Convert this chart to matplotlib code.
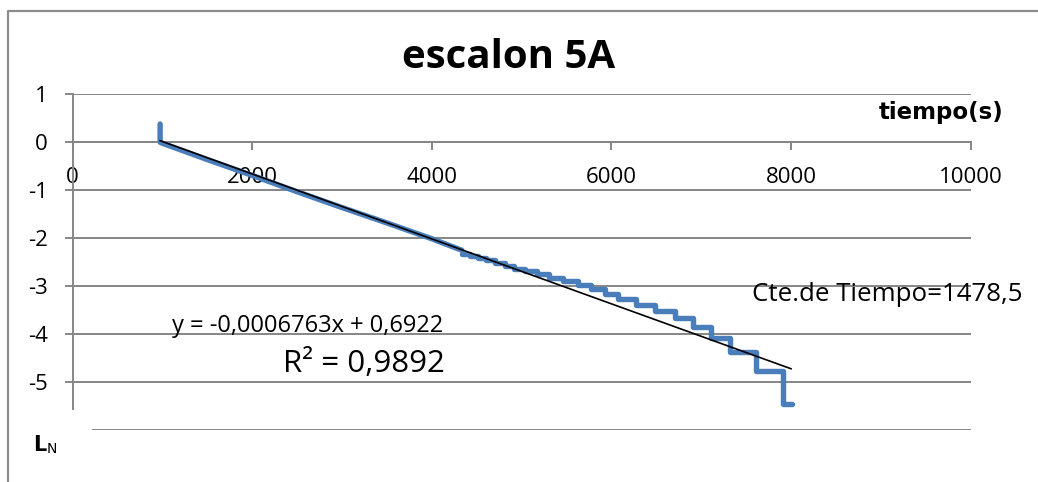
import matplotlib
matplotlib.use("Agg")
import matplotlib.pyplot as plt
from matplotlib.patches import Rectangle
from matplotlib.lines import Line2D

plt.rcParams['font.family'] = ['Open Sans', 'DejaVu Sans']

# smooth start of the curve (time in s, ln of normalised value)
t_smooth = [975, 975, 1000, 1500, 2000, 2500, 3000, 3500, 4000, 4335]
ln_smooth = [0.38, 0.00, -0.02, -0.36, -0.69, -1.03, -1.36, -1.68, -2.01, -2.25]

# stepped tail: start time of each level (last entry = end of data) and level value
t_steps = [4335, 4420, 4510, 4605, 4705, 4810, 4920, 5040, 5170, 5310, 5461, 5628,
           5777, 5925, 6074, 6278, 6482, 6704, 6908, 7113, 7317, 7613, 7910, 8010]
ln_steps = [-2.32, -2.37, -2.42, -2.46, -2.52, -2.57, -2.63, -2.69, -2.75, -2.82,
            -2.89, -2.97, -3.06, -3.16, -3.26, -3.38, -3.51, -3.67, -3.85, -4.07, -4.36,
            -4.77, -5.46, -5.46]

# linear trendline shown on the chart
slope = -0.0006763
intercept = 0.6922
trend_x = [975, 8000]

x_ticks = [0, 2000, 4000, 6000, 8000, 10000]
y_ticks = [1, 0, -1, -2, -3, -4, -5, -6]

grid_col = '#868686'
blue = '#4A7EBB'

fig = plt.figure(figsize=(10.38, 4.82), dpi=100)
ax = fig.add_axes([0.0699, 0.1073, 0.8652, 0.6971])
ax.set_xlim(0, 10000)
ax.set_ylim(-6, 1)

ax.plot(t_smooth, ln_smooth, color=blue, lw=3.9, solid_capstyle='round',
        solid_joinstyle='round', zorder=3)
ax.plot(t_steps, ln_steps, color=blue, lw=3.9, drawstyle='steps-post',
        solid_capstyle='round', solid_joinstyle='round', zorder=3)
ax.plot(trend_x, [slope * x + intercept for x in trend_x], color='black', lw=1.2, zorder=4)

ax.set_yticks(y_ticks)
ax.set_xticks(x_ticks)
ax.set_xticklabels([str(v) for v in x_ticks])
# the -6 label sits under the axis-title box in the original
ax.set_yticklabels([str(v) if v != -6 else '' for v in y_ticks])
ax.grid(axis='y', color=grid_col, lw=1.4)
ax.set_axisbelow(True)
for s in ['top', 'right']:
    ax.spines[s].set_visible(False)
ax.spines['bottom'].set_position(('data', 0))
ax.spines['bottom'].set_color(grid_col)
ax.spines['left'].set_color(grid_col)
ax.spines['bottom'].set_linewidth(1.4)
ax.spines['left'].set_linewidth(1.4)
ax.tick_params(axis='x', direction='out', length=6, width=1.4, color=grid_col,
               pad=12, labelsize=16)
ax.tick_params(axis='y', direction='out', length=6, width=1.4, color=grid_col,
               pad=12, labelsize=16)

fig.text(509 / 1038, 1 - 57 / 482, 'escalon 5A', fontsize=29, fontweight='bold',
         ha='center', va='center')

# trendline label
fig.text(443 / 1038, 1 - 332 / 482, 'y = -0,0006763x + 0,6922', fontsize=17,
         ha='right', va='baseline')
fig.text(445 / 1038, 1 - 372 / 482, 'R² = 0,9892', fontsize=22.5, ha='right',
         va='baseline')
fig.text(752 / 1038, 1 - 301 / 482, 'Cte.de Tiempo=1478,5', fontsize=18.6,
         ha='left', va='baseline')

# axis titles with white boxes
fig.patches.append(Rectangle((853 / 1038, 1 - 127 / 482), 150 / 1038, 32 / 482,
                             transform=fig.transFigure, facecolor='white',
                             edgecolor='none', zorder=5))
fig.text(941 / 1038, 1 - 112 / 482, 'tiempo(s)', fontsize=16.5, fontweight='bold',
         ha='center', va='center', zorder=6, family='DejaVu Sans')
fig.patches.append(Rectangle((10 / 1038, 0), 82 / 1038, 72 / 482,
                             transform=fig.transFigure, facecolor='white',
                             edgecolor='none', zorder=5))
fig.text(33 / 1038, 1 - 445 / 482, 'L', fontsize=15, fontweight='bold',
         ha='left', va='center', zorder=6, family='DejaVu Sans')
fig.text(47 / 1038, 1 - 449 / 482, 'N', fontsize=10,
         ha='left', va='center', zorder=6, family='DejaVu Sans')

# chart frame
fig.add_artist(Line2D([8 / 1038, 8 / 1038, 1.0], [0.0, 1 - 11 / 482, 1 - 11 / 482],
                      transform=fig.transFigure, color='#8C8C8C', lw=1.6))

fig.savefig('out.png', dpi=100)
